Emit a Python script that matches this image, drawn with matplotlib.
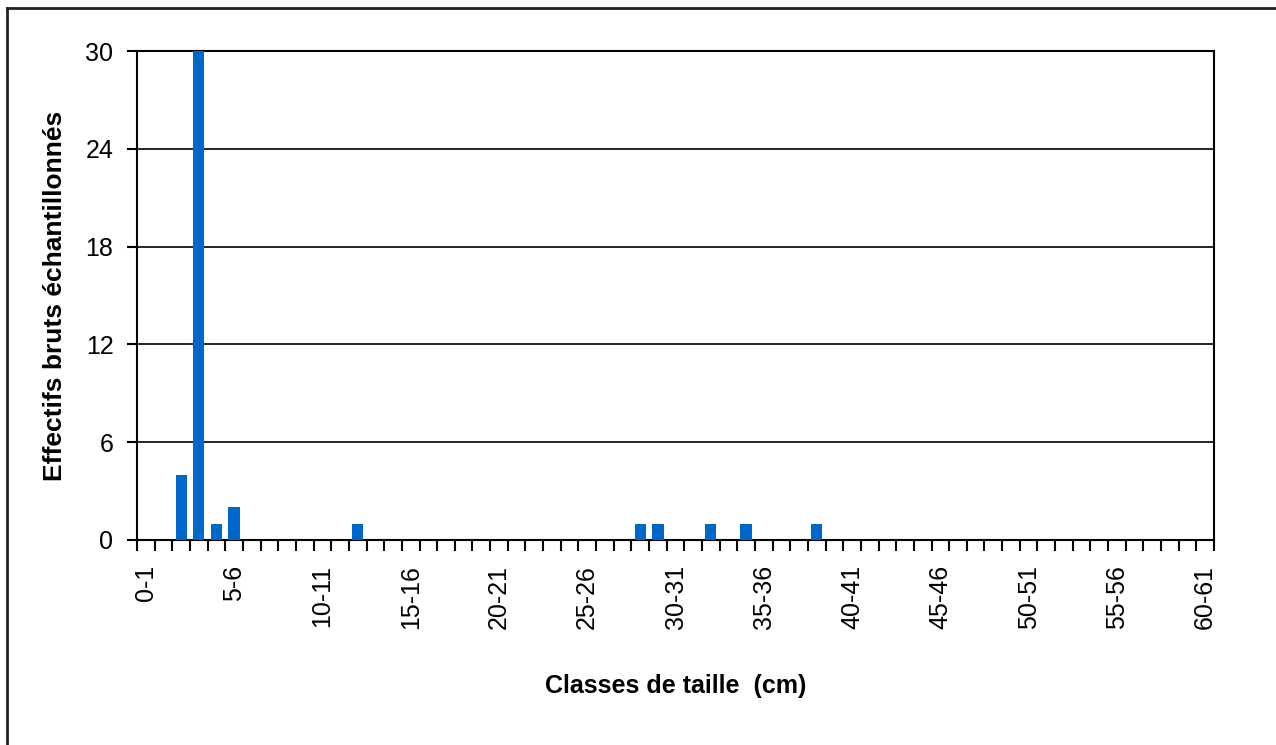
import matplotlib.pyplot as plt
from matplotlib.lines import Line2D
import numpy as np

plt.rcParams['font.family'] = ['Liberation Sans', 'DejaVu Sans']

# size classes 0-1 ... 60-61
classes = [f'{i}-{i + 1}' for i in range(61)]
counts = [0, 0, 4, 30, 1, 2, 0, 0, 0, 0,
          0, 0, 1, 0, 0, 0, 0, 0, 0, 0,
          0, 0, 0, 0, 0, 0, 0, 0, 1, 1,
          0, 0, 1, 0, 1, 0, 0, 0, 1, 0,
          0, 0, 0, 0, 0, 0, 0, 0, 0, 0,
          0, 0, 0, 0, 0, 0, 0, 0, 0, 0,
          0]
y_ticks = [0, 6, 12, 18, 24, 30]

fig = plt.figure(figsize=(12.76, 7.45), dpi=100)
ax = fig.add_axes([0.1074, 0.2752, 0.844, 0.6563])

x = np.arange(len(classes))
ax.bar(x, counts, width=0.64, color='#0066CC', zorder=3)

ax.set_xlim(-0.5, len(classes) - 0.5)
ax.set_ylim(0, 30)

# gridlines
ax.set_yticks(y_ticks)
ax.yaxis.grid(True, color='black', linewidth=1.2, zorder=1)
ax.tick_params(axis='y', direction='out', length=7, width=1.5, labelsize=18, pad=10)

# ticks at class boundaries, labels every 5th class
ax.set_xticks(np.arange(-0.5, len(classes), 1))
ax.set_xticklabels([])
ax.tick_params(axis='x', which='major', direction='out', length=8, width=1.5)
ax.set_xticks(x[::5], minor=True)
ax.set_xticklabels(classes[::5], minor=True, rotation=90, fontsize=18)
ax.tick_params(axis='x', which='minor', length=0, pad=18)

for s in ax.spines.values():
    s.set_linewidth(1.5)
    s.set_color('black')

ax.set_xlabel('Classes de taille  (cm)', fontsize=18, fontweight='bold', labelpad=32)
ax.set_ylabel('Effectifs bruts échantillonnés', fontsize=19, fontweight='bold', labelpad=13)

# chart area border (left and top visible)
fig.add_artist(Line2D([0.0055, 0.0055], [0, 0.989], color='#222222', linewidth=2))
fig.add_artist(Line2D([0.0055, 1], [0.989, 0.989], color='#222222', linewidth=2))

fig.savefig('out.png', dpi=100)
